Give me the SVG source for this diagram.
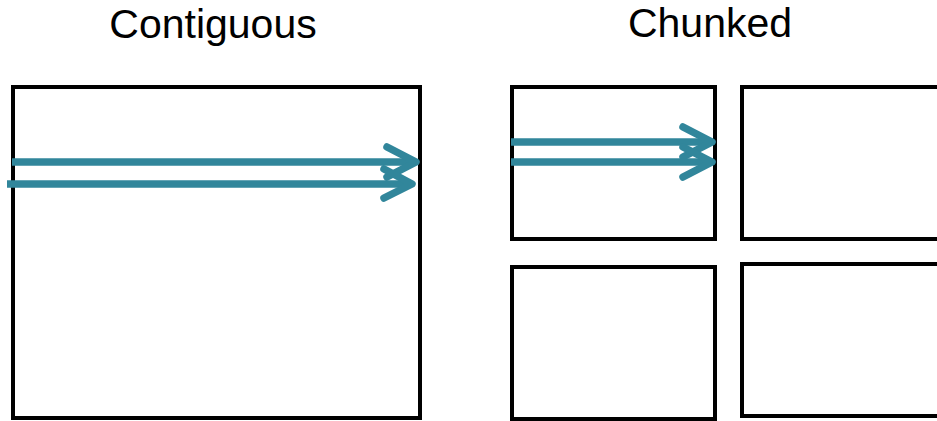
<svg xmlns="http://www.w3.org/2000/svg" width="937" height="421" viewBox="0 0 937 421">
<style>
.box{fill:#fff;stroke:#000;stroke-width:4}
.title{font-family:"Liberation Sans",Arial,sans-serif;font-size:41px;fill:#000;text-anchor:middle}
.arr{fill:none;stroke:#31869b;stroke-width:7.5;stroke-linejoin:round}
.head{fill:none;stroke:#31869b;stroke-width:7.5;stroke-linecap:round;stroke-linejoin:round}
</style>
<rect width="937" height="421" fill="#fff"/>
<g id="title-contiguous"><text class="title" x="213" y="38">Contiguous</text></g>
<g id="title-chunked"><text class="title" x="710" y="37">Chunked</text></g>
<g id="contiguous-box"><rect class="box" x="13" y="87" width="407" height="331"/></g>
<g id="chunk-tl"><rect class="box" x="512" y="87" width="203" height="152"/></g>
<g id="chunk-tr"><rect class="box" x="742" y="87" width="200" height="152"/></g>
<g id="chunk-bl"><rect class="box" x="512" y="267" width="203" height="152"/></g>
<g id="chunk-br"><rect class="box" x="742" y="264" width="200" height="152"/></g>
<g id="connectors">
<path class="arr" d="M12 162H414"/>
<path class="head" d="M387 147L416 162L387 177"/>
<path class="arr" d="M7 184H409"/>
<path class="head" d="M384 169L412 184L384 198"/>
<path class="arr" d="M511 142H709"/>
<path class="head" d="M683 127L712 142L683 157"/>
<path class="arr" d="M511 162H709"/>
<path class="head" d="M683 147L712 162L683 177"/>
</g>
</svg>
